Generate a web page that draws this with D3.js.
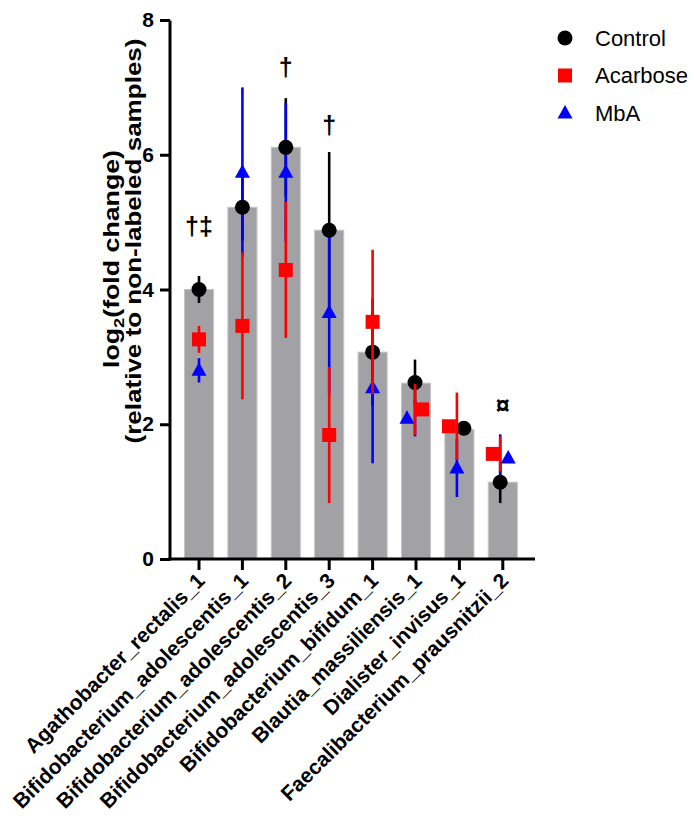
<!DOCTYPE html>
<html>
<head>
<meta charset="utf-8">
<script src="https://cdn.jsdelivr.net/npm/d3@7"></script>
<style>
  body { margin: 0; background: white; }
  text { font-family: Arial, "Liberation Sans", sans-serif; }
</style>
</head>
<body>
<svg id="chart" width="694" height="820"></svg>
<script>
// values
var categories = ["Agathobacter_rectalis_1", "Bifidobacterium_adolescentis_1",
    "Bifidobacterium_adolescentis_2", "Bifidobacterium_adolescentis_3",
    "Bifidobacterium_bifidum_1", "Blautia_massiliensis_1",
    "Dialister_invisus_1", "Faecalibacterium_prausnitzii_2"];

var barValues    = [4.00, 5.22, 6.11, 4.88, 3.07, 2.61, 1.92, 1.14];
var controlMean  = [4.00, 5.22, 6.11, 4.88, 3.07, 2.62, 1.94, 1.14];
var controlErr   = [0.20, 0.50, 0.73, 1.16, 0.80, 0.34, 0.10, 0.31];
var acarboseMean = [3.26, 3.46, 4.29, 1.84, 3.52, 2.22, 1.97, 1.56];
var acarboseErr  = [0.20, 1.09, 1.01, 1.01, 1.07, 0.38, 0.50, 0.26];
var mbaMean      = [2.80, 5.74, 5.74, 3.66, 2.54, 2.09, 1.35, 1.50];
var mbaErr       = [0.18, 1.26, 1.03, 1.22, 1.12, 0.27, 0.43, 0.35];

var yTicks = [0, 2, 4, 6, 8];
var marks = ["\u2020\u2021", "", "\u2020", "\u2020", "", "", "", "\u00a4"];
var markY = [4.94, null, 7.30, 6.44, null, null, null, 2.28];

// little sideways shifts the original software used so symbols don't overlap
// (symbol dx, error bar dx) per category
var nudge = {
    control:  {sym: [0, 0, 0, 0, 0, -1, 4.5, -2.6], err: [0, 0, 0, 0, 0, -1, 4.5, -2.6]},
    acarbose: {sym: [0, 0, 0, 0, 0, 6, -10.5, -10], err: [0, 0, 0, 0, 0, -1, -2.5, -2.6]},
    mba:      {sym: [0, 0, 0, 0, 0, -9, -2.5, 5.4],  err: [0, 0, 0, 0, 0, -1, -2.5, -2.6]}
};

var svg = d3.select("#chart");

var x = d3.scaleBand().domain(categories).range([177.3, 524.5]).padding(0);
var y = d3.scaleLinear().domain([0, 8]).range([559, 20]);
var barW = x.bandwidth() * 0.67;
function cx(i) { return x(categories[i]) + x.bandwidth() / 2; }

// bars
svg.append("g").selectAll("rect")
    .data(barValues)
    .enter().append("rect")
    .attr("x", function(d, i) { return cx(i) - barW / 2; })
    .attr("y", function(d) { return y(d); })
    .attr("width", barW)
    .attr("height", function(d) { return y(0) - y(d); })
    .attr("fill", "#a2a1a6")
    .attr("stroke", "#c4c4c6")
    .attr("stroke-width", 1);

function errorBars(means, errs, color, dx) {
    svg.append("g").selectAll("line")
        .data(means)
        .enter().append("line")
        .attr("x1", function(d, i) { return cx(i) + dx[i]; })
        .attr("x2", function(d, i) { return cx(i) + dx[i]; })
        .attr("y1", function(d, i) { return y(d + errs[i]); })
        .attr("y2", function(d, i) { return y(d - errs[i]); })
        .attr("stroke", color)
        .attr("stroke-width", 2.6);
}

function symbols(means, shape, color, dx) {
    svg.append("g").selectAll("path")
        .data(means)
        .enter().append("path")
        .attr("d", shape)
        .attr("transform", function(d, i) {
            return "translate(" + (cx(i) + dx[i]) + "," + y(d) + ")";
        })
        .attr("fill", color);
}

var circle = d3.symbol().type(d3.symbolCircle).size(Math.PI * 7.5 * 7.5)();
var square = d3.symbol().type(d3.symbolSquare).size(14 * 14)();
var triangle = "M0,-8L7.5,5.5L-7.5,5.5Z";

// drawing order picked to match which colour sits on top in the original
errorBars(controlMean, controlErr, "#000000", nudge.control.err);
errorBars(mbaMean, mbaErr, "#0000ff", nudge.mba.err);
symbols(controlMean, circle, "#000000", nudge.control.sym);
symbols(mbaMean, triangle, "#0000ff", nudge.mba.sym);
errorBars(acarboseMean, acarboseErr, "#ff0000", nudge.acarbose.err);
symbols(acarboseMean, square, "#ff0000", nudge.acarbose.sym);

// significance marks
marks.forEach(function(m, i) {
    if (!m) return;
    svg.append("text")
        .attr("x", cx(i))
        .attr("y", y(markY[i]))
        .attr("text-anchor", "middle")
        .attr("dominant-baseline", "central")
        .attr("font-size", 25)
        .attr("font-weight", "bold")
        .text(m);
});

// axes
var yAxis = svg.append("g")
    .attr("transform", "translate(170,0)")
    .call(d3.axisLeft(y).tickValues(yTicks).tickSize(10).tickSizeOuter(0).tickPadding(6));
yAxis.select(".domain").attr("d", "M0,20.5V560.5");

var xAxis = svg.append("g")
    .attr("transform", "translate(0,559)")
    .call(d3.axisBottom(x).tickSize(11).tickSizeOuter(0).tickFormat(""));
xAxis.select(".domain").attr("d", "M168.5,0H535");

svg.selectAll(".domain, .tick line")
    .attr("stroke", "#000")
    .attr("stroke-width", 3);
yAxis.selectAll(".tick text")
    .attr("font-size", 21)
    .attr("font-weight", "bold")
    .attr("font-family", "Arial, 'Liberation Sans', sans-serif")
    .attr("fill", "#000");

svg.append("g").selectAll("text")
    .data(categories)
    .enter().append("text")
    .attr("transform", function(d, i) {
        return "translate(" + (cx(i) + 7) + ",582) rotate(-45)";
    })
    .attr("text-anchor", "end")
    .attr("font-size", 21)
    .attr("font-weight", "bold")
    .text(function(d) { return d; });

// y title, stretched along its length like the original
var title = svg.append("text")
    .attr("transform", "translate(119,259) rotate(-90)")
    .attr("text-anchor", "middle")
    .attr("font-size", 22)
    .attr("font-weight", "bold")
    .attr("textLength", 218)
    .attr("lengthAdjust", "spacingAndGlyphs");
title.append("tspan").text("log");
title.append("tspan").attr("font-size", 15).attr("dy", 5).text("2");
title.append("tspan").attr("dy", -5).text("(fold change)");
svg.append("text")
    .attr("transform", "translate(141,241) rotate(-90)")
    .attr("text-anchor", "middle")
    .attr("font-size", 22)
    .attr("font-weight", "bold")
    .attr("textLength", 405)
    .attr("lengthAdjust", "spacingAndGlyphs")
    .text("(relative to non-labeled samples)");

// legend
var legendNames = ["Control", "Acarbose", "MbA"];
var legendShapes = [circle, square, triangle];
var legendColors = ["#000000", "#ff0000", "#0000ff"];
var legend = svg.append("g").selectAll("g")
    .data(legendNames)
    .enter().append("g")
    .attr("transform", function(d, i) { return "translate(565," + (38 + i * 37.5) + ")"; });
legend.append("path")
    .attr("d", function(d, i) { return legendShapes[i]; })
    .attr("fill", function(d, i) { return legendColors[i]; });
legend.append("text")
    .attr("x", 30)
    .attr("dy", "0.35em")
    .attr("font-size", 22)
    .text(function(d) { return d; });
</script>
</body>
</html>
